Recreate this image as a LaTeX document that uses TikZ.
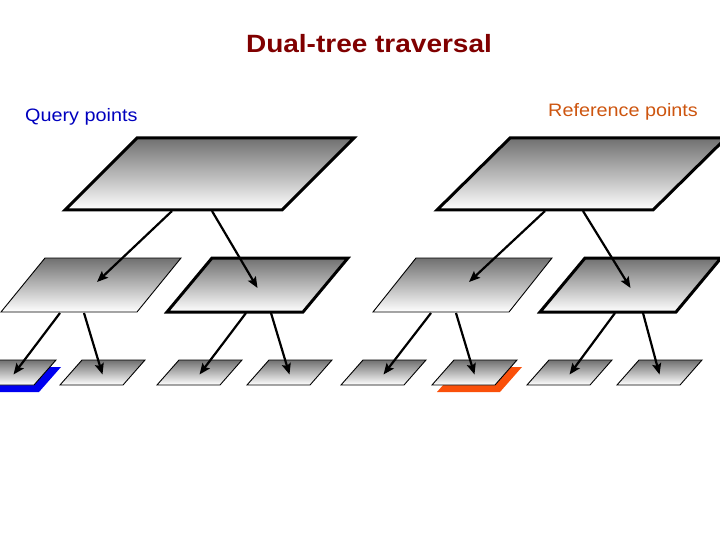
\documentclass[tikz,border=0pt]{standalone}
\usepackage{fontspec}
\setmainfont{Liberation Sans}
\usetikzlibrary{arrows.meta,calc}
\definecolor{titlered}{RGB}{128,0,0}
\definecolor{qblue}{RGB}{0,0,190}
\definecolor{reforange}{RGB}{205,85,15}
\definecolor{hlblue}{RGB}{0,0,240}
\definecolor{hlorange}{RGB}{250,80,10}
\definecolor{shadetop}{RGB}{112,112,112}
\tikzset{
  pshade/.style={top color=shadetop, bottom color=white, draw=black},
  thickrim/.style={pshade, line width=3pt, line join=miter},
  thinrim/.style={pshade, line width=0.9pt, line join=miter},
  link/.style={line width=2.2pt, -{Stealth[length=11pt,width=9pt,inset=2pt]}},
}
% #1 name, #2 bottom-left x, #3 bottom y, #4 width, #5 height, #6 shift, #7 style
\newcommand\pgram[7]{%
  \path[#7] (#2,#3) -- ++(#4,0) -- ++(#6,-#5) -- ++(-#4,0) -- cycle;
  \coordinate (#1) at ({#2+(#4+#6)/2},{#3-#5/2});
}
\begin{document}
\begin{tikzpicture}[x=1pt,y=-1pt]
\useasboundingbox (0,0) rectangle (720,540);
% texts
\node[text=titlered, font=\fontsize{25}{30}\selectfont\bfseries] (title) at (369,44) {\scalebox{1.12}[1]{Dual-tree traversal}};
\node[text=qblue, font=\fontsize{18}{21}\selectfont, anchor=base west, inner sep=0] (qp) at (25,121.5) {\scalebox{1.1}[1]{Query points}};
\node[text=reforange, font=\fontsize{18}{21}\selectfont, anchor=base west, inner sep=0] (rp) at (548,116.5) {\scalebox{1.1}[1]{Reference points}};
% top level
\pgram{P}{65}{210}{217}{72}{72}{thickrim}
\pgram{Q}{437}{210}{216}{72}{73}{thickrim}
% level 2
\pgram{A}{1}{312}{136}{54}{44}{thinrim}
\pgram{B}{167}{312}{136}{54}{45}{thickrim}
\pgram{C}{373}{312}{136}{54}{43}{thinrim}
\pgram{D}{540}{312}{136}{54}{45}{thickrim}
% highlights behind leaves
\path[fill=hlblue] (-24,392) -- ++(63,0) -- ++(22,-25) -- ++(-63,0) -- cycle;
\path[fill=hlorange] (437,392) -- ++(63,0) -- ++(22,-25) -- ++(-63,0) -- cycle;
% level 3
\pgram{L1}{-29}{385}{63}{25}{22}{thinrim}
\pgram{L2}{60}{385}{63}{25}{22}{thinrim}
\pgram{L3}{157}{385}{63}{25}{22}{thinrim}
\pgram{L4}{247}{385}{63}{25}{22}{thinrim}
\pgram{L5}{341}{385}{63}{25}{22}{thinrim}
\pgram{L6}{432}{385}{63}{25}{22}{thinrim}
\pgram{L7}{527}{385}{63}{25}{22}{thinrim}
\pgram{L8}{617}{385}{63}{25}{22}{thinrim}
% arrow start/end points
\coordinate (Pl) at (172,211); \coordinate (Pr) at (212,211);
\coordinate (Ql) at (545,211); \coordinate (Qr) at (583,211);
\coordinate (Al) at (60,313);  \coordinate (Ar) at (84,313);
\coordinate (Bl) at (246,313); \coordinate (Br) at (271,313);
\coordinate (Cl) at (431,313); \coordinate (Cr) at (456,313);
\coordinate (Dl) at (615,313); \coordinate (Dr) at (643,313);
\coordinate (Ain) at (97,282);  \coordinate (Cin) at (469,282);
% connectors
\draw[link] (Pl) -- (Ain);
\draw[link] (Pr) -- ([yshift=-3pt]B);
\draw[link] (Ql) -- (Cin);
\draw[link] (Qr) -- ([yshift=-3pt]D);
\draw[link] (Al) -- ([yshift=-2pt]L1);
\draw[link] (Ar) -- ([yshift=-2pt]L2);
\draw[link] (Bl) -- ([yshift=-2pt]L3);
\draw[link] (Br) -- ([yshift=-2pt]L4);
\draw[link] (Cl) -- ([yshift=-2pt]L5);
\draw[link] (Cr) -- ([yshift=-2pt]L6);
\draw[link] (Dl) -- ([yshift=-2pt]L7);
\draw[link] (Dr) -- ([yshift=-2pt]L8);
\end{tikzpicture}
\end{document}
